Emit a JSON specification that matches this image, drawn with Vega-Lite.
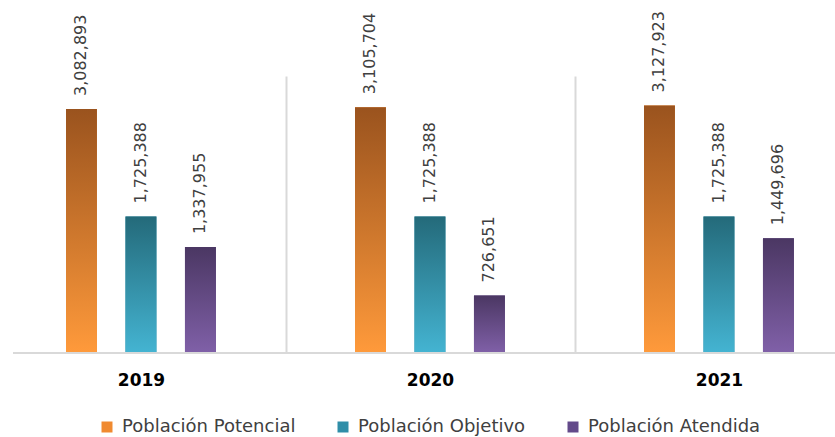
{
  "$schema": "https://vega.github.io/schema/vega-lite/v6.json",
  "autosize": "none",
  "width": 822,
  "height": 277,
  "padding": {"left": 13, "top": 76, "right": 0, "bottom": 84},
  "background": "white",
  "config": {"view": {"stroke": null}},
  "datasets": {
    "pob": [
      {"anio": "2019", "serie": "Población Potencial", "valor": 3082893},
      {"anio": "2019", "serie": "Población Objetivo", "valor": 1725388},
      {"anio": "2019", "serie": "Población Atendida", "valor": 1337955},
      {"anio": "2020", "serie": "Población Potencial", "valor": 3105704},
      {"anio": "2020", "serie": "Población Objetivo", "valor": 1725388},
      {"anio": "2020", "serie": "Población Atendida", "valor": 726651},
      {"anio": "2021", "serie": "Población Potencial", "valor": 3127923},
      {"anio": "2021", "serie": "Población Objetivo", "valor": 1725388},
      {"anio": "2021", "serie": "Población Atendida", "valor": 1449696}
    ]
  },
  "data": {"name": "pob"},
  "layer": [
    {
      "mark": {"type": "bar"},
      "encoding": {
        "x": {
          "field": "anio", "type": "nominal",
          "scale": {"range": [-16.5, 850.5], "paddingInner": 0, "paddingOuter": 0},
          "axis": {
            "title": null, "labelAngle": 0, "ticks": false, "domain": false,
            "grid": true, "gridColor": "#d9d9d9", "gridWidth": 2, "tickBand": "extent",
            "labelFont": "DejaVu Sans", "labelFontWeight": "bold", "labelFontSize": 17,
            "labelColor": "#000000", "labelPadding": 19
          }
        },
        "xOffset": {
          "field": "serie", "type": "nominal",
          "scale": {"domain": ["Población Potencial", "Población Objetivo", "Población Atendida"], "range": [69.5, 219.4], "paddingInner": 0.48, "paddingOuter": 0}
        },
        "y": {
          "field": "valor", "type": "quantitative",
          "scale": {"domain": [0, 3500000]},
          "axis": null
        },
        "color": {
          "field": "serie", "type": "nominal",
          "scale": {
            "domain": ["Población Potencial", "Población Objetivo", "Población Atendida"],
            "range": ["#f08a30", "#2f8ea8", "#634a8a"]
          },
          "legend": {
            "title": null, "orient": "none", "direction": "horizontal",
            "legendX": 85, "legendY": 342, "padding": 0,
            "symbolType": "square", "symbolSize": 121, "symbolStrokeWidth": 0,
            "labelFont": "DejaVu Sans", "labelFontSize": 18, "labelColor": "#404040",
            "labelOffset": 6, "columnPadding": 38, "labelLimit": 400
          }
        }
      }
    },
    {
      "transform": [{"filter": "datum.serie === 'Población Potencial'"}],
      "mark": {"type": "bar", "color": {"gradient": "linear", "x1": 0, "y1": 0, "x2": 0, "y2": 1,
        "stops": [{"offset": 0, "color": "#9a531e"}, {"offset": 1, "color": "#ff9a3b"}]}},
      "encoding": {
        "x": {"field": "anio", "type": "nominal"},
        "xOffset": {"field": "serie", "type": "nominal"},
        "y": {"field": "valor", "type": "quantitative"}
      }
    },
    {
      "transform": [{"filter": "datum.serie === 'Población Objetivo'"}],
      "mark": {"type": "bar", "color": {"gradient": "linear", "x1": 0, "y1": 0, "x2": 0, "y2": 1,
        "stops": [{"offset": 0, "color": "#246a7a"}, {"offset": 1, "color": "#44b4d2"}]}},
      "encoding": {
        "x": {"field": "anio", "type": "nominal"},
        "xOffset": {"field": "serie", "type": "nominal"},
        "y": {"field": "valor", "type": "quantitative"}
      }
    },
    {
      "transform": [{"filter": "datum.serie === 'Población Atendida'"}],
      "mark": {"type": "bar", "color": {"gradient": "linear", "x1": 0, "y1": 0, "x2": 0, "y2": 1,
        "stops": [{"offset": 0, "color": "#4b3763"}, {"offset": 1, "color": "#8060a8"}]}},
      "encoding": {
        "x": {"field": "anio", "type": "nominal"},
        "xOffset": {"field": "serie", "type": "nominal"},
        "y": {"field": "valor", "type": "quantitative"}
      }
    },
    {
      "mark": {"type": "text", "angle": 270, "align": "left", "baseline": "middle", "dx": 13,
        "font": "DejaVu Sans", "fontSize": 16, "color": "#404040"},
      "encoding": {
        "x": {"field": "anio", "type": "nominal"},
        "xOffset": {"field": "serie", "type": "nominal"},
        "y": {"field": "valor", "type": "quantitative"},
        "text": {"field": "valor", "type": "quantitative", "format": ","}
      }
    },
    {
      "data": {"values": [{}]},
      "mark": {"type": "rule", "color": "#d9d9d9", "strokeWidth": 2},
      "encoding": {"y": {"datum": 0}}
    }
  ]
}
